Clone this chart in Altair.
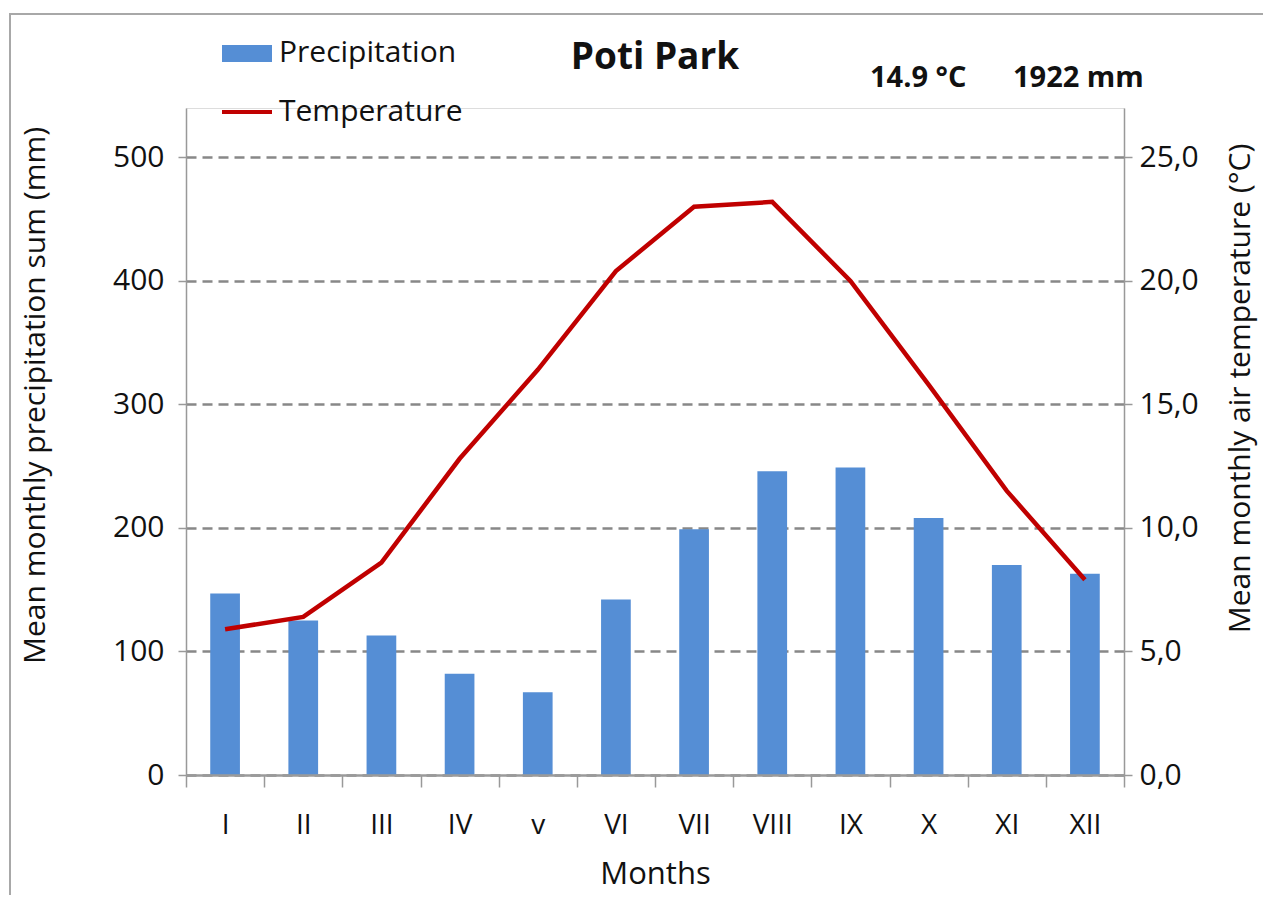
import altair as alt
import pandas as pd

months = ["I", "II", "III", "IV", "v", "VI", "VII", "VIII", "IX", "X", "XI", "XII"]
precip = [147, 125, 113, 82, 67, 142, 199, 246, 249, 208, 170, 163]
temp = [5.9, 6.4, 8.6, 12.8, 16.4, 20.4, 23.0, 23.2, 20.0, 15.8, 11.5, 7.9]

df = pd.DataFrame({"month": months, "precip": precip, "temp": temp})

FONT = "Open Sans"
W, H = 938, 667

xenc = alt.X(
    "month:N", sort=months,
    scale=alt.Scale(paddingInner=0, paddingOuter=0),
    axis=alt.Axis(title="Months", tickBand="extent", labelAngle=0, zindex=1,
                  labelFont=FONT, labelFontSize=28, labelColor="#111",
                  titleFont=FONT, titleFontSize=31, titleFontWeight="normal", titleColor="#111",
                  tickSize=12, tickColor="#999", tickWidth=1.5, domainColor="#9a9a9a", domainWidth=2.5,
                  labelPadding=24, titlePadding=20, grid=False),
)

bars = alt.Chart(df).mark_bar(color="#558ED5", width=alt.RelativeBandSize(0.38)).encode(
    x=xenc,
    y=alt.Y("precip:Q", scale=alt.Scale(domain=[0, 540], nice=False),
            axis=alt.Axis(title="Mean monthly precipitation sum (mm)", values=[0, 100, 200, 300, 400, 500],
                          labelFont=FONT, labelFontSize=30, labelColor="#111",
                          titleFont=FONT, titleFontSize=30, titleFontWeight="normal", titleColor="#111",
                          titleX=-136, titleY=287, titleAngle=270,
                          tickSize=8, tickColor="#999", tickWidth=1.5, domainColor="#999", domainWidth=1.5,
                          labelPadding=14, grid=True, gridColor="#888", gridDash=[10, 6], gridWidth=2.5)),
)

line = alt.Chart(df).mark_line(color="#C00000", strokeWidth=4.5).encode(
    x=alt.X("month:N", sort=months),
    y=alt.Y("temp:Q", scale=alt.Scale(domain=[0, 27], nice=False),
            axis=alt.Axis(title="Mean monthly air temperature (°C)", orient="right",
                          values=[0, 5, 10, 15, 20, 25],
                          labelExpr="replace(format(datum.value, '.1f'), '.', ',')",
                          labelFont=FONT, labelFontSize=30, labelColor="#111",
                          titleFont=FONT, titleFontSize=30, titleFontWeight="normal", titleColor="#111",
                          titleX=131, titleY=280, titleAngle=270,
                          tickSize=8, tickColor="#999", tickWidth=1.5, domainColor="#999", domainWidth=1.5,
                          labelPadding=7, grid=False)),
)

one = alt.Data(values=[{}])

frame = alt.Chart(one).mark_rect(fillOpacity=0, stroke="#a8a8a8", strokeWidth=2).encode(
    x=alt.value(-176), x2=alt.value(1400), y=alt.value(-94), y2=alt.value(1000)
)

title = alt.Chart(one).mark_text(text="Poti Park", font=FONT, fontSize=37, fontWeight="bold",
                                  color="#111", align="center", baseline="middle").encode(
    x=alt.value(469), y=alt.value(-50))
stat1 = alt.Chart(one).mark_text(text="14.9 °C", font=FONT, fontSize=29, fontWeight="bold",
                                  color="#111", align="left", baseline="middle").encode(
    x=alt.value(684), y=alt.value(-30))
stat2 = alt.Chart(one).mark_text(text="1922 mm", font=FONT, fontSize=29, fontWeight="bold",
                                  color="#111", align="left", baseline="middle").encode(
    x=alt.value(827), y=alt.value(-30))

leg_rect = alt.Chart(one).mark_rect(color="#558ED5").encode(
    x=alt.value(36), x2=alt.value(86), y=alt.value(-63), y2=alt.value(-46))
leg_rect_t = alt.Chart(one).mark_text(text="Precipitation", font=FONT, fontSize=30, color="#111",
                                       align="left", baseline="middle").encode(
    x=alt.value(93), y=alt.value(-55))
leg_line = alt.Chart(one).mark_rule(color="#C00000", strokeWidth=4).encode(
    x=alt.value(36), x2=alt.value(86), y=alt.value(4))
leg_line_t = alt.Chart(one).mark_text(text="Temperature", font=FONT, fontSize=30, color="#111",
                                       align="left", baseline="middle").encode(
    x=alt.value(93), y=alt.value(4))

chart = alt.layer(
    frame, bars, line, title, stat1, stat2, leg_rect, leg_rect_t, leg_line, leg_line_t
).resolve_scale(y="independent").properties(
    width=W, height=H,
    autosize=alt.AutoSizeParams(type="none"),
    padding={"left": 178, "top": 100, "right": 139, "bottom": 120},
).configure_view(stroke=None).configure(background="white")

chart.save("out.html", embed_options={"renderer": "svg", "actions": False})
